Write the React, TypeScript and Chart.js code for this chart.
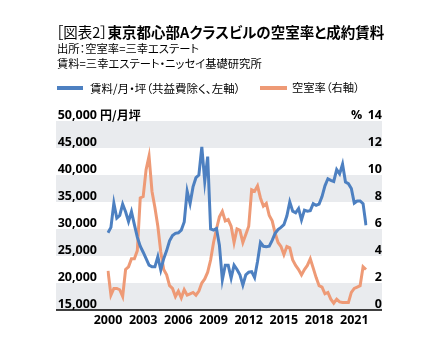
import React, { useEffect, useRef } from "react";
import { Chart, registerables } from "chart.js";

Chart.register(...registerables);

// ---- data ----
const startYear = 2000;
const quarterCount = 89; // 2000Q1 .. 2022Q1
const periods: string[] = [];
for (let i = 0; i < quarterCount; i++) {
  periods.push(`${startYear + Math.floor(i / 4)}Q${(i % 4) + 1}`);
}
const yearTickLabels = ["2000", "2003", "2006", "2009", "2012", "2015", "2018", "2021"];

// 賃料 (円/月坪, left axis)
const rent = [
  29300, 30300, 34800, 32000, 32500, 34600, 33200, 31400, 33200, 30800,
  28500, 26800, 25700, 24500, 23300, 23000, 23000, 24900, 22400, 24500,
  26000, 27800, 28800, 29200, 29300, 29800, 31300, 37000, 34700, 37800,
  39500, 40000, 45200, 38800, 43400, 30000, 29800, 30100, 27000, 20600,
  23300, 23300, 20900, 23300, 22500, 21500, 19600, 21500, 22000, 22100,
  21000, 24000, 27500, 26800, 26700, 26800, 27900, 29200, 29900, 30300,
  30800, 32400, 35000, 33300, 33000, 33800, 31700, 33500, 33300, 33400,
  34700, 34400, 34600, 36000, 38000, 39300, 39000, 38800, 41000, 40200,
  42000, 38700, 38400, 37500, 34800, 35200, 35200, 34700, 30700,
];

// 空室率 (%, right axis)
const vacancy = [
  2.9, 1.1, 1.6, 1.6, 1.5, 1.0, 3.0, 3.2, 3.8, 3.8,
  4.4, 8.3, 8.4, 10.4, 11.4, 8.8, 7.6, 6.2, 4.3, 3.0,
  2.6, 1.8, 1.6, 1.0, 1.4, 0.9, 1.5, 1.1, 1.2, 1.3,
  1.1, 1.4, 2.0, 2.3, 2.8, 3.7, 5.0, 6.0, 6.9, 7.3,
  6.6, 6.7, 6.2, 5.0, 6.0, 5.9, 5.0, 5.6, 6.2, 8.9,
  8.8, 9.2, 8.3, 7.7, 7.9, 7.0, 6.6, 5.7, 5.0, 4.7,
  4.1, 4.7, 4.6, 3.7, 3.3, 3.0, 2.6, 3.0, 3.3, 3.8,
  3.1, 2.4, 1.8, 1.7, 1.2, 1.3, 0.8, 0.5, 0.8, 0.6,
  0.55, 0.55, 0.55, 1.3, 1.6, 1.7, 1.8, 3.2, 3.0,
];

const rentLabel = "賃料/月・坪（共益費除く、左軸）";
const vacancyLabel = "空室率（右軸）";

const BLUE = "rgb(77,128,193)";
const ORANGE = "rgb(238,154,118)";
const BAND = "rgb(233,235,238)";
const TICK_FONT = { family: "'Open Sans', 'DejaVu Sans', sans-serif", size: 12.5, weight: "bold" as const };
const JP = "'Noto Sans CJK JP', 'Noto Sans', sans-serif";

const bandsPlugin = {
  id: "bands",
  beforeDraw(chart: any) {
    const { ctx, chartArea } = chart;
    const y = chart.scales.y;
    const ticks = [50000, 45000, 40000, 35000, 30000, 25000, 20000, 15000];
    ctx.save();
    ctx.fillStyle = BAND;
    for (let i = 0; i < ticks.length - 1; i += 2) {
      const top = y.getPixelForValue(ticks[i]);
      const bot = y.getPixelForValue(ticks[i + 1]);
      ctx.fillRect(56, top, 382 - 56, bot - top);
    }
    ctx.strokeStyle = "#000";
    ctx.lineWidth = 1.5;
    ctx.beginPath();
    ctx.moveTo(56, chartArea.bottom);
    ctx.lineTo(382, chartArea.bottom);
    ctx.stroke();
    ctx.restore();
  },
};

export default function App() {
  const ref = useRef<HTMLCanvasElement>(null);
  useEffect(() => {
    if (!ref.current) return;
    const chart = new Chart(ref.current, {
      type: "line",
      data: {
        labels: periods,
        datasets: [
          {
            label: rentLabel,
            data: rent,
            borderColor: BLUE,
            backgroundColor: BLUE,
            borderWidth: 3,
            pointRadius: 0,
            tension: 0,
            yAxisID: "y",
          },
          {
            label: vacancyLabel,
            data: vacancy,
            borderColor: ORANGE,
            backgroundColor: ORANGE,
            borderWidth: 3,
            pointRadius: 0,
            tension: 0,
            yAxisID: "y1",
          },
        ],
      },
      options: {
        animation: false,
        responsive: false,
        devicePixelRatio: 1,
        layout: { padding: { top: 121, right: 52, left: 0, bottom: 0 } },
        plugins: { legend: { display: false }, tooltip: { enabled: false }, title: { display: false } },
        scales: {
          x: {
            type: "category",
            grid: { display: false, drawTicks: false },
            border: { display: false },
            ticks: {
              autoSkip: false,
              maxRotation: 0,
              minRotation: 0,
              padding: 3,
              color: "#000",
              font: TICK_FONT,
              callback: (_v: any, i: number) => {
                const l = periods[i];
                const yr = l.slice(0, 4);
                return l.endsWith("Q1") && yearTickLabels.includes(yr) ? yr : null;
              },
            },
            afterFit: (s: any) => {
              s.height = 47;
            },
          },
          y: {
            position: "left",
            min: 15000,
            max: 50000,
            grid: { display: false, drawTicks: false },
            border: { display: false },
            ticks: {
              stepSize: 5000,
              padding: 11,
              labelOffset: -6,
              color: "#000",
              font: TICK_FONT,
              callback: (v: any) => Number(v).toLocaleString("en-US"),
            },
            afterFit: (s: any) => {
              s.width = 108;
            },
          },
          y1: {
            position: "right",
            min: 0,
            max: 14,
            grid: { display: false, drawTicks: false },
            border: { display: false },
            ticks: {
              stepSize: 2,
              crossAlign: "far",
              labelOffset: -6,
              color: "#000",
              font: TICK_FONT,
            },
            afterFit: (s: any) => {
              s.width = 16;
            },
          },
        },
      } as any,
      plugins: [bandsPlugin],
    });
    return () => chart.destroy();
  }, []);

  const abs = (left: number, centerY: number, size: number, extra: any = {}) => ({
    position: "absolute" as const,
    left,
    top: centerY - size * 0.7,
    fontSize: size,
    lineHeight: `${size * 1.4}px`,
    fontFamily: JP,
    whiteSpace: "nowrap" as const,
    color: "#000",
    fontFeatureSettings: '"palt"',
    ...extra,
  });

  return (
    <div style={{ position: "fixed", left: 0, top: 0, width: 434, height: 357, background: "#fff", overflow: "hidden" }}>
      <canvas ref={ref} width={434} height={357} style={{ position: "absolute", left: 0, top: 0, width: 434, height: 357 }} />
      <div style={abs(56, 32, 14.5, { fontWeight: 700 })}>
        <span style={{ fontWeight: 400 }}>［図表2］</span>東京都心部Aクラスビルの空室率と成約賃料
      </div>
      <div style={abs(57, 49, 11.3)}>出所：空室率=三幸エステート</div>
      <div style={abs(57, 64, 11.3)}>賃料=三幸エステート・ニッセイ基礎研究所</div>
      <div style={{ position: "absolute", left: 57, top: 86, width: 26, height: 4, background: BLUE }} />
      <div style={abs(90, 88, 11.5)}>{rentLabel}</div>
      <div style={{ position: "absolute", left: 260, top: 86, width: 27, height: 4, background: ORANGE }} />
      <div style={abs(292, 88, 11.3)}>{vacancyLabel}</div>
      <div style={abs(100, 115, 12, { fontWeight: 700 })}>円/月坪</div>
      <div style={abs(351, 115, 12.5, { fontWeight: 700, fontFamily: "'Open Sans', sans-serif" })}>%</div>
    </div>
  );
}
